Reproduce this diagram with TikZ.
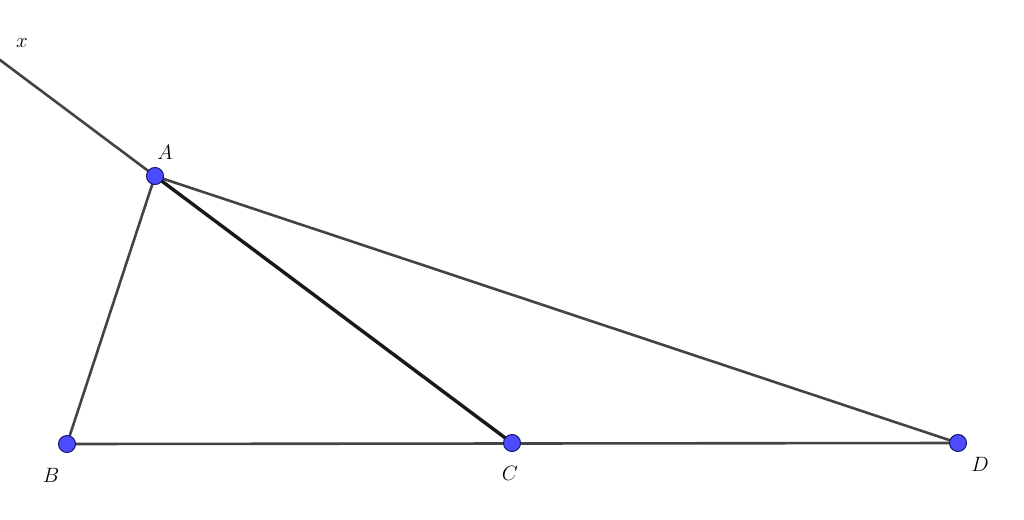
\documentclass[tikz,border=0pt]{standalone}
\usepackage{tikz}
\definecolor{ptfill}{RGB}{77,77,255}
\definecolor{ptdraw}{RGB}{20,20,110}
\definecolor{lngray}{RGB}{68,68,68}
\tikzset{
  pt/.style={circle,fill=ptfill,draw=ptdraw,line width=1pt,inner sep=0pt,minimum size=17pt},
  seg/.style={draw=lngray,line width=2.6pt},
  segb/.style={draw=black!90,line width=3.4pt},
  lbl/.style={font=\fontsize{21}{25}\selectfont, inner sep=0pt}
}
\begin{document}
\begin{tikzpicture}[x=1pt,y=-1pt]
\useasboundingbox (0,0) rectangle (1024,519);
\coordinate (Ac) at (155,176);
\coordinate (Bc) at (67,444);
\coordinate (Cc) at (512,443);
\coordinate (Dc) at (958,443);
\coordinate (X) at (-2,58.5);
\draw[seg] (X) -- (Ac);
\draw[seg] (Ac) -- (Bc);
\draw[seg] (Ac) -- (Dc);
\draw[seg] (Bc) -- (Dc);
\draw[segb] (Ac) -- (Cc);
\node[pt] (A) at (Ac) {};
\node[pt] (B) at (Bc) {};
\node[pt] (C) at (Cc) {};
\node[pt] (D) at (Dc) {};
\node[lbl] (lx) at (22,43) {$x$};
\node[lbl] (lA) at (165,152) {$A$};
\node[lbl] (lB) at (51,475) {$B$};
\node[lbl] (lC) at (510,473) {$C$};
\node[lbl] (lD) at (980,464) {$D$};
\end{tikzpicture}
\end{document}
